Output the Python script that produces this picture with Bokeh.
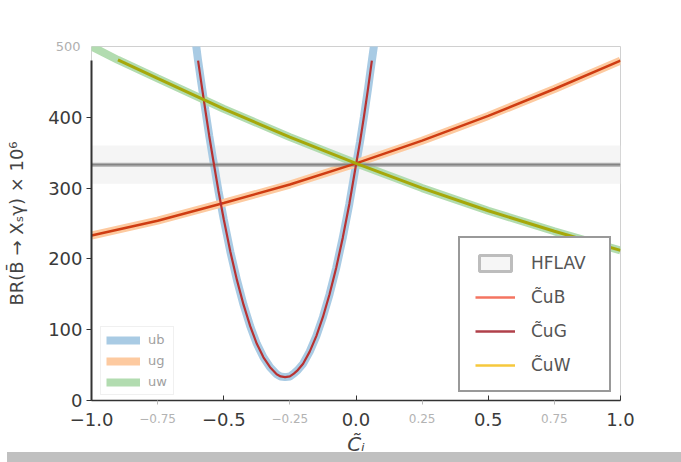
from bokeh.plotting import figure
from bokeh.models import Legend, LegendItem, FixedTicker, Range1d, Div, LinearAxis
from bokeh.layouts import column
from bokeh.embed import file_html
from bokeh.resources import INLINE

NaN = float("nan")

# --- data ---
# thick "ub" band and the C_uG curve on top of it (parabola)
ub_x = [-0.625, -0.61, -0.597, -0.585, -0.57, -0.555, -0.54, -0.52, -0.50, -0.475,
        -0.45, -0.425, -0.40, -0.375, -0.35, -0.325, -0.30, -0.285, -0.268, -0.25,
        -0.235, -0.22, -0.20, -0.175, -0.15, -0.125, -0.10, -0.075, -0.05, -0.025,
        0.00, 0.015, 0.03, 0.045, 0.06, 0.075, 0.085]
ub_y = [561, 518, 480, 449, 411, 374, 340, 296, 256, 210,
        170, 135, 105, 80, 61, 47, 37, 34, 33, 34,
        38, 43, 52, 69, 91, 118, 150, 187, 230, 278,
        333, 365, 401, 439, 480, 520, 549]
# thick "ug" band and C_uB curve
ug_x = [-1.0, -0.75, -0.5, -0.25, 0.0, 0.25, 0.5, 0.75, 1.0]
ug_y = [233, 254, 279, 305, 335, 367, 402, 440, 480]
# thick "uw" band and C_uW curve
uw_x = [-1.0, -0.9, -0.75, -0.5, -0.25, 0.0, 0.25, 0.5, 0.75, 1.0]
uw_y = [500, 481, 455, 412, 372, 335, 300, 268, 239, 212]
# HFLAV measurement
hflav_x = [-1.0, 1.0]
hflav_central = [333, 333]
hflav_low = 306
hflav_high = 360

x_major = [-1.0, -0.5, 0.0, 0.5, 1.0]
x_major_labels = ["\u22121.0", "\u22120.5", "0.0", "0.5", "1.0"]
x_minor = [-0.75, -0.25, 0.25, 0.75]
x_minor_labels = ["\u22120.75", "\u22120.25", "0.25", "0.75"]
y_major = [0, 100, 200, 300, 400]
y_top = [500]

FONT = "DejaVu Sans"

p = figure(width=681, height=461, x_range=Range1d(-1, 1), y_range=Range1d(0, 500),
           output_backend="svg", toolbar_location=None,
           x_axis_location=None, y_axis_location=None,
           min_border_left=91, min_border_top=46, min_border_right=61, min_border_bottom=61)
p.grid.visible = False
p.outline_line_color = "#d0d0d0"
p.background_fill_color = "white"
p.border_fill_color = "white"

# main (dark) x axis, next to the frame
ax_x = LinearAxis(ticker=FixedTicker(ticks=x_major, minor_ticks=x_minor),
                  major_label_overrides={t: l for t, l in zip(x_major, x_major_labels)},
                  major_label_text_font=FONT, major_label_text_font_size="18px",
                  major_label_text_color="#3a3a3a",
                  major_tick_in=5, major_tick_out=0, major_tick_line_color="#333333",
                  minor_tick_in=0, minor_tick_out=4, minor_tick_line_color="#b8b8b8",
                  axis_line_color="#333333", axis_line_width=1.5,
                  major_label_standoff=8)
# faint x labels of the underlying layer, pulled up beside the dark ones; carries the axis title
ax_xf = LinearAxis(ticker=FixedTicker(ticks=x_minor, minor_ticks=[]),
                   major_label_overrides={t: l for t, l in zip(x_minor, x_minor_labels)},
                   major_label_text_font=FONT, major_label_text_font_size="12px",
                   major_label_text_color="#b3b3b3",
                   major_tick_in=0, major_tick_out=0, axis_line_color=None,
                   major_label_standoff=-15,
                   axis_label="C\u0303\u1d62", axis_label_text_font=FONT,
                   axis_label_text_font_size="20px", axis_label_text_font_style="italic",
                   axis_label_text_color="#444444", axis_label_standoff=6)
p.add_layout(ax_x, "below")
p.add_layout(ax_xf, "below")

# main (dark) y axis
ax_y = LinearAxis(ticker=FixedTicker(ticks=y_major, minor_ticks=[]), bounds=(0, 480),
                  major_label_text_font=FONT, major_label_text_font_size="18px",
                  major_label_text_color="#3a3a3a",
                  major_tick_in=0, major_tick_out=5, major_tick_line_color="#333333",
                  axis_line_color="#333333", axis_line_width=2,
                  major_label_standoff=4)
# faint "500" of the underlying layer; carries the axis title
ax_yf = LinearAxis(ticker=FixedTicker(ticks=y_top, minor_ticks=[]),
                   major_label_text_font=FONT, major_label_text_font_size="13px",
                   major_label_text_color="#b0b0b0",
                   major_tick_in=0, major_tick_out=0, axis_line_color=None,
                   major_label_standoff=-35,
                   axis_label="BR(B\u0304 \u2192 X\u209b\u03b3) \u00d7 10\u2076",
                   axis_label_text_font=FONT, axis_label_text_font_size="18px",
                   axis_label_text_font_style="normal", axis_label_text_color="#444444",
                   axis_label_standoff=26)
p.add_layout(ax_y, "left")
p.add_layout(ax_yf, "left")

# HFLAV band
p.quad(left=[hflav_x[0]], right=[hflav_x[1]], bottom=[hflav_low], top=[hflav_high],
       fill_color="#f2f2f2", fill_alpha=0.8, line_color=None)

# thick bands
ub_r = p.line(ub_x, ub_y, line_color="#a9cbe4", line_width=8)
ug_r = p.line(ug_x, ug_y, line_color="#fdcaa0", line_width=8)
uw_r = p.line(uw_x, uw_y, line_color="#b2dcb0", line_width=8)

# HFLAV central line
p.line(hflav_x, hflav_central, line_color="#9a9a9a", line_width=4, line_alpha=0.8)
p.line(hflav_x, hflav_central, line_color="#777777", line_width=1.2)

# thin curves
p.line(ug_x, ug_y, line_color="#cf3c12", line_width=2.5)
p.line(ub_x[2:-2], ub_y[2:-2], line_color="#b83232", line_width=2.2)
p.line(uw_x[1:], uw_y[1:], line_color="#a6a80a", line_width=3)

# legend proxies (no visible data) for the right-hand legend
hf_proxy = p.quad(left=[NaN], right=[NaN], bottom=[NaN], top=[NaN], fill_color="#f6f6f6",
                  line_color="#bdbdbd", line_width=3)
cb_proxy = p.line(x=[NaN], y=[NaN], line_color="#f47461", line_width=2.5)
cg_proxy = p.line(x=[NaN], y=[NaN], line_color="#b0404a", line_width=2.5)
cw_proxy = p.line(x=[NaN], y=[NaN], line_color="#f6c83c", line_width=2.5)

leg1 = Legend(items=[LegendItem(label="ub", renderers=[ub_r]),
                     LegendItem(label="ug", renderers=[ug_r]),
                     LegendItem(label="uw", renderers=[uw_r])],
              location=(9, 5), padding=5, spacing=6, glyph_width=34, glyph_height=14,
              label_height=14, label_standoff=8, label_width=20,
              label_text_font=FONT, label_text_font_size="13px", label_text_color="#a0a0a0",
              border_line_color="#e2e2e2", border_line_width=1,
              background_fill_color="white", background_fill_alpha=0.8, margin=0)
p.add_layout(leg1, "center")

leg2 = Legend(items=[LegendItem(label="HFLAV", renderers=[hf_proxy]),
                     LegendItem(label="C\u0303uB", renderers=[cb_proxy]),
                     LegendItem(label="C\u0303uG", renderers=[cg_proxy]),
                     LegendItem(label="C\u0303uW", renderers=[cw_proxy])],
              location=(367, 8), padding=15, spacing=14, glyph_width=40, glyph_height=20,
              label_height=20, label_standoff=16, label_width=63,
              label_text_font=FONT, label_text_font_size="17px", label_text_color="#555555",
              border_line_color="#333333", border_line_width=2,
              background_fill_color="white", background_fill_alpha=1.0, margin=0)
p.add_layout(leg2, "center")

strip = Div(width=674, height=10, margin=(-9, 0, 0, 7), styles={"background-color": "#c0c0c0"})
layout = column(p, strip, spacing=0)

open("out.html", "w").write(file_html(layout, INLINE))
